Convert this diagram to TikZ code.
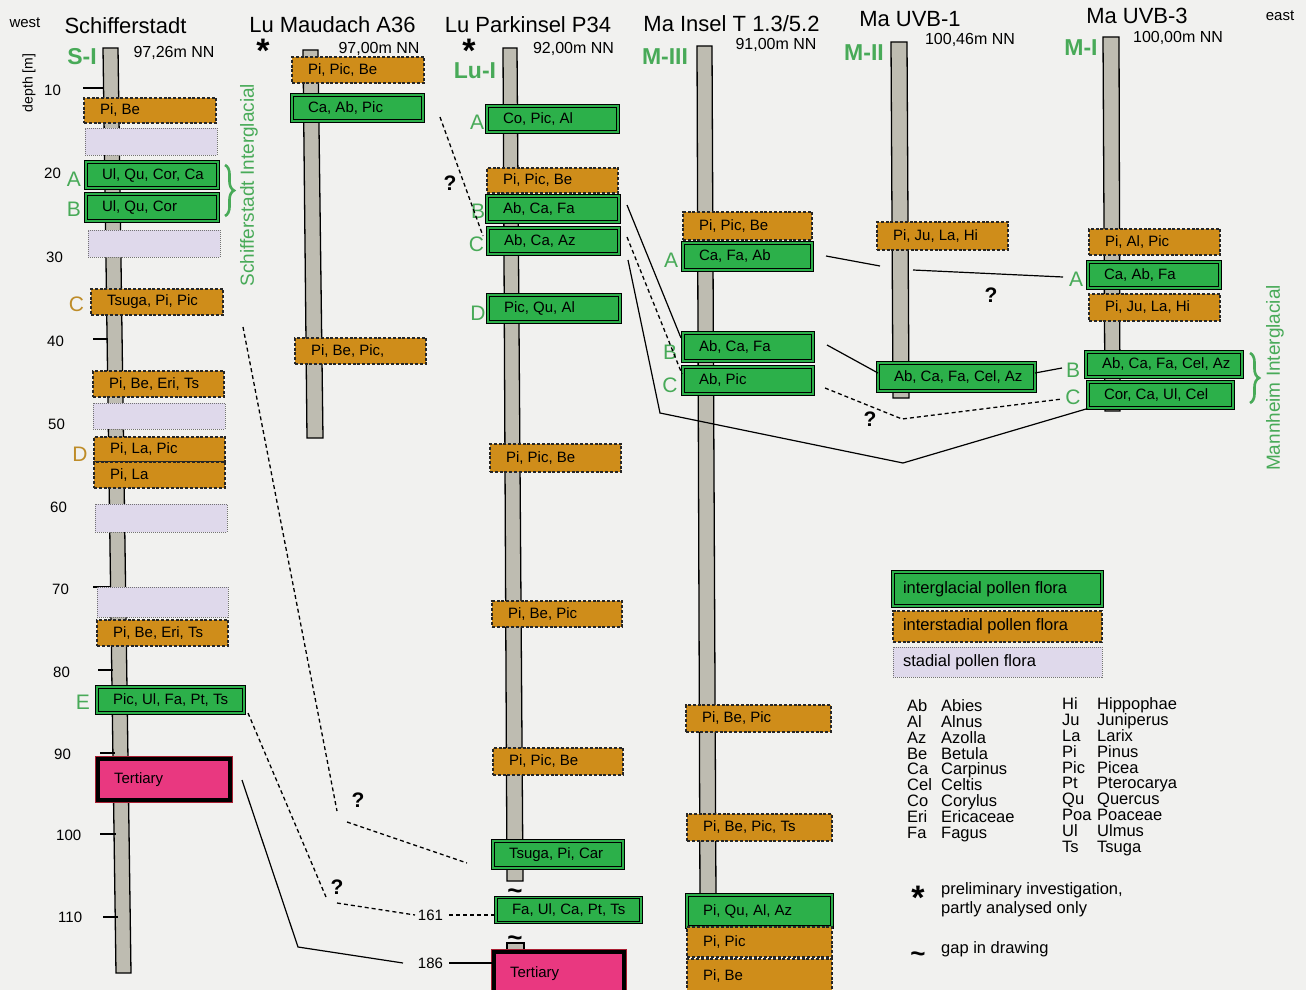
\documentclass[tikz,border=0pt]{standalone}
\usepackage{fontspec}
\setmainfont{Liberation Sans}
\usetikzlibrary{decorations.pathreplacing}
\definecolor{bgc}{RGB}{241,241,239}
\definecolor{igreen}{RGB}{44,176,74}
\definecolor{ochre}{RGB}{207,141,26}
\definecolor{lav}{RGB}{223,217,235}
\definecolor{tpink}{RGB}{233,56,128}
\definecolor{tred}{RGB}{170,30,50}
\definecolor{lgreen}{RGB}{72,170,88}
\definecolor{lochre}{RGB}{190,140,40}
\definecolor{coreg}{RGB}{190,188,177}
\newcommand\pbx[7]{\node[#1, minimum width=#5pt, minimum height=#6pt, inner xsep=16pt, inner ysep=0pt] (#2) at (#3,#4) {\makebox[\dimexpr#5pt-32pt\relax][l]{#7}};}
\newcommand\astglyph{\raisebox{-17pt}[6pt][6pt]{*}}
\tikzset{
 boxtxt/.style={font=\fontsize{15}{16}\selectfont},
 ig/.style={boxtxt, fill=igreen, draw=black, line width=1.2pt, double=igreen, double distance=1.4pt},
 is/.style={boxtxt, fill=ochre, draw=black!85, line width=1.1pt, dash pattern=on 3pt off 1.8pt},
 st/.style={fill=lav, draw=black!55, line width=0.9pt, dash pattern=on 1pt off 1pt},
 tt/.style={boxtxt, fill=tpink, draw=black, line width=3.5pt, preaction={draw=tred, line width=5.5pt}},
 core/.style={fill=coreg, draw=black, line width=1.3pt},
 ttl/.style={font=\fontsize{22}{24}\selectfont, anchor=base},
 elev/.style={font=\fontsize{16}{18}\selectfont, anchor=base},
 cid/.style={text=lgreen, font=\bfseries\fontsize{23}{24}\selectfont},
 lt/.style={text=lgreen, font=\fontsize{21}{22}\selectfont},
 lto/.style={text=lochre, font=\fontsize{21}{22}\selectfont},
 dep/.style={font=\fontsize{15}{16}\selectfont, anchor=west},
 tick/.style={line width=1.4pt},
 qm/.style={font=\bfseries\fontsize{21}{22}\selectfont},
 ast/.style={font=\bfseries\fontsize{34}{34}\selectfont},
 tld/.style={font=\bfseries\fontsize{26}{26}\selectfont, anchor=base},
 con/.style={line width=1.2pt},
 dcon/.style={line width=1.3pt, dash pattern=on 4pt off 3pt},
 brc/.style={draw=lgreen, line width=2.6pt, decorate, decoration={brace, amplitude=9pt}},
 rot/.style={text=lgreen, font=\fontsize{19}{20}\selectfont, rotate=90},
 leg/.style={font=\fontsize{16.5}{18}\selectfont, anchor=base west},
}
\begin{document}
\begin{tikzpicture}[x=1pt,y=-1pt, every node/.style={inner sep=0pt}]
\fill[bgc] (0,0) rectangle (1306,990);
\useasboundingbox (0,0) rectangle (1306,990);
\clip (0,0) rectangle (1306,990);

% ---------- headings
\node[font=\fontsize{15}{16}\selectfont, anchor=base] (west) at (25,28) {west};
\node[font=\fontsize{15}{16}\selectfont, anchor=base] (east) at (1280,21) {east};
\node[ttl] (tS) at (125.5,34) {Schifferstadt};
\node[ttl] (tM) at (332.5,33) {Lu Maudach A36};
\node[ttl] (tL) at (528,33) {Lu Parkinsel P34};
\node[ttl] (tI) at (731.5,32) {Ma Insel T 1.3/5.2};
\node[ttl] (tU1) at (910,27) {Ma UVB-1};
\node[ttl] (tU3) at (1137,24) {Ma UVB-3};
\node[elev] (eS) at (174,58) {97,26m NN};
\node[elev] (eM) at (379,53) {97,00m NN};
\node[elev] (eL) at (573.5,53) {92,00m NN};
\node[elev] (eI) at (776,50) {91,00m NN};
\node[elev] (eU1) at (970,45) {100,46m NN};
\node[elev] (eU3) at (1178,43) {100,00m NN};
\node[ast] (stM) at (263,46) {\astglyph};
\node[ast] (stL) at (469,46) {\astglyph};
\node[cid] (nS) at (82,57) {S-I};
\node[cid] (nL) at (475,71) {Lu-I};
\node[cid] (nI) at (665,57) {M-III};
\node[cid] (nU1) at (864,53) {M-II};
\node[cid] (nU3) at (1081,48) {M-I};
\node[rotate=90, font=\fontsize{14}{15}\selectfont] (dl) at (29,83) {depth [m]};

% ---------- cores
\draw[core] (103,48) -- (118,48) -- (131,973) -- (116,973) -- cycle;
\draw[core] (303,50) -- (318,50) -- (323,438) -- (307,438) -- cycle;
\draw[core] (503,48) -- (517,48) -- (523,881) -- (507,881) -- cycle;
\draw[core] (507,943) -- (524,943) -- (524,955) -- (507,955) -- cycle;
\draw[core] (697,46) -- (712,46) -- (716,900) -- (700,900) -- cycle;
\draw[core] (891,42) -- (907,42) -- (909,398) -- (893,398) -- cycle;
\draw[core] (1103,37) -- (1119,37) -- (1120,411) -- (1105,411) -- cycle;

% ---------- depth scale
\draw[tick] (83,88) -- (104,88);
\draw[tick] (93,339) -- (108,339);
\draw[tick] (93,587) -- (111,587);
\draw[tick] (98,670) -- (113,670);
\draw[tick] (100,753) -- (115,753);
\draw[tick] (100,834) -- (116,834);
\draw[tick] (103,917) -- (118,917);
\node[dep] (d10) at (44,90) {10};
\node[dep] (d20) at (44,173) {20};
\node[dep] (d30) at (46,257) {30};
\node[dep] (d40) at (47,341) {40};
\node[dep] (d50) at (48,424) {50};
\node[dep] (d60) at (50,507) {60};
\node[dep] (d70) at (52,589) {70};
\node[dep] (d80) at (53,672) {80};
\node[dep] (d90) at (54,754) {90};
\node[dep] (d100) at (56,835) {100};
\node[dep] (d110) at (58,917) {110};

% ---------- Schifferstadt
\pbx{is}{s1}{150}{110.5}{132}{25}{Pi, Be}
\pbx{st}{s2}{151}{141.5}{132}{27}{}
\pbx{ig}{sA}{152}{175}{132}{26}{Ul, Qu, Cor, Ca}
\pbx{ig}{sB}{152}{207.5}{132}{27}{Ul, Qu, Cor}
\pbx{st}{s3}{154}{243.5}{132}{27}{}
\pbx{is}{sC}{157}{302}{132}{26}{Tsuga, Pi, Pic}
\pbx{is}{s4}{158.5}{384}{131}{26}{Pi, Be, Eri, Ts}
\pbx{st}{s5}{159}{416}{132}{26}{}
\pbx{is}{sD}{159.5}{449.5}{131}{25}{Pi, La, Pic}
\pbx{is}{s6}{159.5}{475}{131}{26}{Pi, La}
\pbx{st}{s7}{161}{518}{132}{28}{}
\pbx{st}{s8}{162.5}{602}{131}{30}{}
\pbx{is}{s9}{162.5}{633}{131}{26}{Pi, Be, Eri, Ts}
\pbx{ig}{sE}{170.5}{700}{147}{26}{Pic, Ul, Fa, Pt, Ts}
\pbx{tt}{sT}{164}{779.5}{132}{41}{Tertiary}
\node[lt] (lSA) at (74,179.5) {A};
\node[lt] (lSB) at (74,209.5) {B};
\node[lto] (lSC) at (76.5,304) {C};
\node[lto] (lSD) at (80,454) {D};
\node[lt] (lSE) at (83,702) {E};
\draw[brc] (225,165) -- (225,216);
\node[rot] (rS) at (249,185) {Schifferstadt Interglacial};

% ---------- Lu Maudach
\pbx{is}{m1}{358}{70}{132}{26}{Pi, Pic, Be}
\pbx{ig}{m2}{357.5}{108}{131}{26}{Ca, Ab, Pic}
\pbx{is}{m3}{360.5}{351}{131}{26}{Pi, Be, Pic,}

% ---------- Lu Parkinsel
\pbx{ig}{lA}{552.5}{119}{131}{26}{Co, Pic, Al}
\pbx{is}{l1}{552.5}{180.5}{131}{25}{Pi, Pic, Be}
\pbx{ig}{lB}{553}{209}{132}{26}{Ab, Ca, Fa}
\pbx{ig}{lC}{553.5}{241}{131}{26}{Ab, Ca, Az}
\pbx{ig}{lD}{554}{308.5}{132}{27}{Pic, Qu, Al}
\pbx{is}{l2}{555.5}{458}{131}{28}{Pi, Pic, Be}
\pbx{is}{l3}{557}{614}{130}{26}{Pi, Be, Pic}
\pbx{is}{l4}{558}{761.5}{130}{27}{Pi, Pic, Be}
\pbx{ig}{lE}{558}{854.5}{130}{27}{Tsuga, Pi, Car}
\pbx{ig}{lF}{568.5}{910}{145}{25}{Fa, Ul, Ca, Pt, Ts}
\pbx{tt}{lT}{559}{973.5}{130}{43}{Tertiary}
\node[tld] (tl1) at (515,899) {\textasciitilde};
\node[tld] (tl2) at (515,946) {\textasciitilde};
\node[lt] (lLA) at (477,122.5) {A};
\node[lt] (lLB) at (478,211.5) {B};
\node[lt] (lLC) at (476.5,244.5) {C};
\node[lt] (lLD) at (478,313) {D};

% ---------- Ma Insel
\pbx{is}{i1}{747.5}{226}{129}{28}{Pi, Pic, Be}
\pbx{ig}{iA}{747.5}{256.5}{129}{27}{Ca, Fa, Ab}
\pbx{ig}{iB}{748}{347}{130}{28}{Ab, Ca, Fa}
\pbx{ig}{iC}{748}{380.5}{130}{27}{Ab, Pic}
\pbx{is}{i2}{758.5}{718.5}{145}{27}{Pi, Be, Pic}
\pbx{is}{i3}{759.5}{827.5}{145}{27}{Pi, Be, Pic, Ts}
\pbx{ig}{iD}{759.5}{911}{145}{32}{Pi, Qu, Al, Az}
\pbx{is}{i4}{759.5}{942}{145}{30}{Pi, Pic}
\pbx{is}{i5}{759.5}{976}{145}{34}{Pi, Be}
\node[lt] (lIA) at (671,260) {A};
\node[lt] (lIB) at (670,352) {B};
\node[lt] (lIC) at (670,385) {C};

% ---------- Ma UVB-1
\pbx{is}{u1}{942.5}{236}{131}{28}{Pi, Ju, La, Hi}
\pbx{ig}{uA}{956.5}{377}{157}{28}{Ab, Ca, Fa, Cel, Az}

% ---------- Ma UVB-3
\pbx{is}{v1}{1154.5}{242}{131}{26}{Pi, Al, Pic}
\pbx{ig}{vA}{1154}{275}{132}{26}{Ca, Ab, Fa}
\pbx{is}{v2}{1154.5}{307.5}{131}{27}{Pi, Ju, La, Hi}
\pbx{ig}{vB}{1164}{364.5}{156}{25}{Ab, Ca, Fa, Cel, Az}
\pbx{ig}{vC}{1160.5}{395}{145}{26}{Cor, Ca, Ul, Cel}
\node[lt] (lVA) at (1076,279.5) {A};
\node[lt] (lVB) at (1073,370) {B};
\node[lt] (lVC) at (1073,397.5) {C};
\draw[brc] (1250,353) -- (1250,403);
\node[rot] (rM) at (1275,378) {Mannheim Interglacial};

% ---------- correlation lines
\coordinate (p1a) at (440,117); \coordinate (p1b) at (483,236);
\draw[dcon] (p1a) -- (p1b);
\node[qm] (q1) at (450,183) {?};

\coordinate (p2a) at (243,327); \coordinate (p2b) at (337,811);
\coordinate (p2c) at (347,822); \coordinate (p2d) at (467,863);
\draw[dcon] (p2a) -- (p2b);
\draw[dcon] (p2c) -- (p2d);
\node[qm] (q2) at (358,800) {?};

\coordinate (p3a) at (248,713); \coordinate (p3b) at (326,897);
\coordinate (p3c) at (337,903); \coordinate (p3d) at (415,915);
\draw[dcon] (p3a) -- (p3b);
\draw[dcon] (p3c) -- (p3d);
\node[qm] (q3) at (337,887) {?};
\node[font=\fontsize{15}{16}\selectfont] (n161) at (430.5,915) {161};
\draw[dcon] ([xshift=6pt]n161.east) -- (n161.east -| lF.west);

\coordinate (p4a) at (242,780); \coordinate (p4b) at (298,947); \coordinate (p4c) at (403,963);
\draw[con] (p4a) -- (p4b) -- (p4c);
\node[font=\fontsize{15}{16}\selectfont] (n186) at (430.5,963) {186};
\draw[con] ([xshift=6pt]n186.east) -- (n186.east -| lT.west);

\coordinate (p5a) at (627,205); \coordinate (p5b) at (681,338);
\draw[con] (p5a) -- (p5b);
\coordinate (p6a) at (627,237); \coordinate (p6b) at (682,374);
\draw[dcon] (p6a) -- (p6b);
\coordinate (p7a) at (628,260); \coordinate (p7b) at (660,413); \coordinate (p7c) at (903,463);
\draw[con] (p7a) -- (p7b) -- (p7c) -- (vC.south west);

\coordinate (p8a) at (826,256); \coordinate (p8b) at (880,266);
\coordinate (p8c) at (913,270); \coordinate (p8d) at (1063,277);
\draw[con] (p8a) -- (p8b);
\draw[con] (p8c) -- (p8d);
\node[qm] (q5) at (991,295) {?};

\coordinate (p9a) at (827,345); \coordinate (p9b) at (878,373);
\draw[con] (p9a) -- (p9b);
\coordinate (p10a) at (1035,373); \coordinate (p10b) at (1062,368);
\draw[con] (p10a) -- (p10b);
\coordinate (p11a) at (825,388); \coordinate (p11b) at (902,419); \coordinate (p11c) at (1062,399);
\draw[dcon] (p11a) -- (p11b) -- (p11c);
\node[qm] (q4) at (870,419) {?};

% ---------- legend
\node[ig, font=\fontsize{16.5}{18}\selectfont, minimum width=209pt, minimum height=34pt, inner xsep=10pt] (g1) at (997.5,589) {\makebox[189pt][l]{interglacial pollen flora}};
\node[is, font=\fontsize{16.5}{18}\selectfont, minimum width=209pt, minimum height=31pt, inner xsep=10pt] (g2) at (997.5,626.5) {\makebox[189pt][l]{interstadial pollen flora}};
\node[st, font=\fontsize{16.5}{18}\selectfont, minimum width=209pt, minimum height=30pt, inner xsep=10pt] (g3) at (997.5,662) {\makebox[189pt][l]{stadial pollen flora}};

\foreach \a/\n/\y [count=\i] in {Ab/Abies/705, Al/Alnus/721, Az/Azolla/737, Be/Betula/753, Ca/Carpinus/768, Cel/Celtis/784, Co/Corylus/800, Eri/Ericaceae/816, Fa/Fagus/832}{
  \node[leg] (ka\i) at (907,\y+6) {\a};
  \node[leg] (kn\i) at (941,\y+6) {\n};
}
\foreach \a/\n/\y [count=\i] in {Hi/Hippophae/703, Ju/Juniperus/719, La/Larix/735, Pi/Pinus/751, Pic/Picea/767, Pt/Pterocarya/782, Qu/Quercus/798, Poa/Poaceae/814, Ul/Ulmus/830, Ts/Tsuga/846}{
  \node[leg] (kb\i) at (1062,\y+6) {\a};
  \node[leg] (km\i) at (1097,\y+6) {\n};
}
\node[ast] (lgs) at (918,892) {\astglyph};
\node[font=\fontsize{16.5}{19}\selectfont, align=left, anchor=west] (lgp) at (941,900) {preliminary investigation,\\partly analysed only};
\node[tld] (lgt) at (918,962) {\textasciitilde};
\node[leg] (lgg) at (941,953) {gap in drawing};
\end{tikzpicture}
\end{document}
